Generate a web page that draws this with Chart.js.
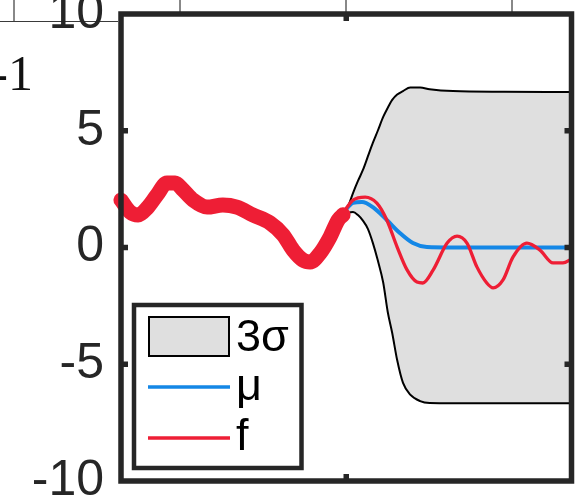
<!DOCTYPE html>
<html>
<head>
<meta charset="utf-8">
<script src="https://cdn.jsdelivr.net/npm/chart.js@4/dist/chart.umd.min.js"></script>
<style>
  html, body { margin: 0; padding: 0; background: #fff; }
  #wrap { width: 584px; height: 495px; }
</style>
</head>
<body>
<div id="wrap"><canvas id="c" width="584" height="495"></canvas></div>
<script>
// Observed samples of f (training region)
const obsX = [0.00, 0.20, 0.38, 0.58, 0.80, 1.02, 1.20, 1.38, 1.60, 1.91, 2.26, 2.57, 2.93, 3.31, 3.60, 3.82, 4.04, 4.20, 4.42, 4.64, 4.82, 4.93];
const obsY = [2.03, 1.52, 1.39, 1.69, 2.25, 2.76, 2.76, 2.46, 2.03, 1.73, 1.82, 1.73, 1.39, 1.05, 0.54, -0.11, -0.54, -0.62, -0.24, 0.45, 1.18, 1.40];

// True function f over the prediction region
const fX = [4.93, 5.15, 5.42, 5.68, 5.90, 6.13, 6.35, 6.57, 6.70, 6.93, 7.24, 7.46, 7.68, 7.90, 8.12, 8.26, 8.48, 8.70, 9.01, 9.30, 9.59, 9.81, 10.00];
const fY = [1.48, 2.03, 2.16, 1.90, 1.18, 0.02, -0.96, -1.48, -1.52, -0.96, 0.19, 0.49, 0.19, -0.83, -1.52, -1.73, -1.39, -0.41, 0.19, -0.11, -0.66, -0.66, -0.49];

// Posterior mean
const muX = [4.93, 5.15, 5.35, 5.59, 5.90, 6.19, 6.48, 6.79, 7.37, 10.00];
const muY = [1.48, 1.91, 1.95, 1.73, 1.18, 0.62, 0.19, 0.02, 0.00, 0.00];

// 3-sigma envelope
const bandX = [4.93, 5.05, 5.15, 5.26, 5.37, 5.48, 5.59, 5.70, 5.82, 5.92, 6.02, 6.13, 6.26, 6.42, 6.64, 6.85, 7.37, 8.50, 10.00];
const upperY = [1.31, 1.80, 2.33, 2.85, 3.32, 3.90, 4.48, 5.00, 5.59, 5.98, 6.32, 6.55, 6.70, 6.85, 6.85, 6.78, 6.70, 6.67, 6.66];
const lowerY = [1.31, 1.48, 1.52, 1.39, 1.15, 0.80, 0.20, -0.55, -1.50, -2.75, -3.66, -4.82, -5.80, -6.30, -6.58, -6.66, -6.67, -6.67, -6.67];

const yTicks = [-10, -5, 0, 5, 10];
const xTicks = [5];
const legendLabels = ['3σ', 'μ', 'f'];

const RED = '#ee1e35';
const BLUE = '#1487e6';
const BAND = '#dfdfdf';
const AXIS = '#262626';

const pts = (xs, ys) => xs.map((x, i) => ({ x: x, y: ys[i] }));

// Box with inward ticks drawn over the data
const frame = {
  id: 'frame',
  afterDatasetsDraw(chart) {
    const { ctx, chartArea: a, scales } = chart;
    ctx.save();
    ctx.strokeStyle = AXIS;
    ctx.lineWidth = 5.5;
    ctx.lineCap = 'square';
    ctx.strokeRect(a.left, a.top, a.right - a.left, a.bottom - a.top);
    ctx.lineCap = 'butt';
    const tl = 7;
    yTicks.forEach(v => {
      const y = scales.y.getPixelForValue(v);
      if (y <= a.top + 3 || y >= a.bottom - 3) return;
      ctx.beginPath();
      ctx.moveTo(a.left, y); ctx.lineTo(a.left + tl, y);
      ctx.moveTo(a.right, y); ctx.lineTo(a.right - tl, y);
      ctx.stroke();
    });
    xTicks.forEach(v => {
      const x = scales.x.getPixelForValue(v);
      ctx.beginPath();
      ctx.moveTo(x, a.top); ctx.lineTo(x, a.top + tl);
      ctx.moveTo(x, a.bottom); ctx.lineTo(x, a.bottom - tl);
      ctx.stroke();
    });
    ctx.restore();
  }
};

// Boxed legend in the lower-left corner
const boxLegend = {
  id: 'boxLegend',
  afterDraw(chart) {
    const { ctx } = chart;
    const ds = chart.data.datasets;
    ctx.save();
    ctx.fillStyle = '#fff';
    ctx.fillRect(134, 305, 167.5, 163);
    ctx.strokeStyle = AXIS;
    ctx.lineWidth = 4.5;
    ctx.strokeRect(134, 305, 167.5, 163);

    // band swatch
    ctx.fillStyle = ds[3].backgroundColor;
    ctx.fillRect(149, 317, 80, 39);
    ctx.strokeStyle = '#000';
    ctx.lineWidth = 2;
    ctx.strokeRect(149, 317, 80, 39);

    // line swatches
    ctx.lineWidth = 3.5;
    ctx.strokeStyle = ds[2].borderColor;
    ctx.beginPath(); ctx.moveTo(148, 387); ctx.lineTo(230, 387); ctx.stroke();
    ctx.strokeStyle = ds[1].borderColor;
    ctx.beginPath(); ctx.moveTo(148, 438); ctx.lineTo(230, 438); ctx.stroke();

    ctx.fillStyle = '#000';
    ctx.font = "45px 'Liberation Sans', Arial, sans-serif";
    ctx.textAlign = 'left';
    ctx.textBaseline = 'alphabetic';
    ctx.fillText(legendLabels[0], 236, 351);
    ctx.fillText(legendLabels[1], 236, 400);
    ctx.fillText(legendLabels[2], 236, 450);
    ctx.restore();
  }
};

// Edges of the neighbouring panel above
const neighbour = {
  id: 'neighbour',
  beforeDraw(chart) {
    const { ctx } = chart;
    ctx.save();
    ctx.strokeStyle = '#3a3a3a';
    ctx.lineWidth = 1.2;
    ctx.beginPath();
    ctx.moveTo(0, 21.5); ctx.lineTo(118, 21.5);
    ctx.moveTo(14, 0); ctx.lineTo(14, 21.5);
    [180, 346, 512].forEach(x => { ctx.moveTo(x, 0); ctx.lineTo(x, 12); });
    ctx.stroke();
    ctx.fillStyle = '#111';
    ctx.font = "50px 'Liberation Serif', 'Times New Roman', serif";
    ctx.textAlign = 'right';
    ctx.textBaseline = 'alphabetic';
    ctx.fillText('-1', 33, 90);
    ctx.restore();
  }
};

new Chart(document.getElementById('c'), {
  type: 'line',
  data: {
    datasets: [
      {
        label: 'observations',
        data: pts(obsX, obsY),
        borderColor: RED,
        borderWidth: 15,
        borderCapStyle: 'round',
        borderJoinStyle: 'round',
        pointRadius: 0,
        cubicInterpolationMode: 'monotone',
        clip: 8,
        fill: false
      },
      {
        label: legendLabels[2],
        data: pts(fX, fY),
        borderColor: RED,
        borderWidth: 3.3,
        pointRadius: 0,
        cubicInterpolationMode: 'monotone',
        fill: false
      },
      {
        label: legendLabels[1],
        data: pts(muX, muY),
        borderColor: BLUE,
        borderWidth: 4,
        pointRadius: 0,
        cubicInterpolationMode: 'monotone',
        fill: false
      },
      {
        label: legendLabels[0],
        data: pts(bandX, upperY),
        borderColor: '#000',
        borderWidth: 2,
        backgroundColor: BAND,
        pointRadius: 0,
        cubicInterpolationMode: 'monotone',
        fill: '+1'
      },
      {
        label: 'lower',
        data: pts(bandX, lowerY),
        borderColor: '#000',
        borderWidth: 2,
        pointRadius: 0,
        cubicInterpolationMode: 'monotone',
        fill: false
      }
    ]
  },
  options: {
    responsive: false,
    animation: false,
    devicePixelRatio: 1,
    layout: { padding: { left: 0, top: 14, right: 12.5, bottom: 14 } },
    plugins: {
      legend: { display: false },
      tooltip: { enabled: false },
      filler: { drawTime: 'beforeDatasetsDraw' }
    },
    scales: {
      x: {
        type: 'linear',
        display: false,
        min: 0,
        max: 10
      },
      y: {
        type: 'linear',
        min: -10,
        max: 10,
        afterFit(s) { s.width = 121; s.paddingTop = 0; s.paddingBottom = 0; },
        afterBuildTicks(s) { s.ticks = yTicks.map(v => ({ value: v })); },
        border: { display: false },
        grid: { display: false, drawTicks: false },
        ticks: {
          padding: 17,
          color: AXIS,
          font: { family: "'Liberation Sans', Arial, sans-serif", size: 50 },
          callback: v => String(v)
        }
      }
    }
  },
  plugins: [neighbour, frame, boxLegend]
});
</script>
</body>
</html>
